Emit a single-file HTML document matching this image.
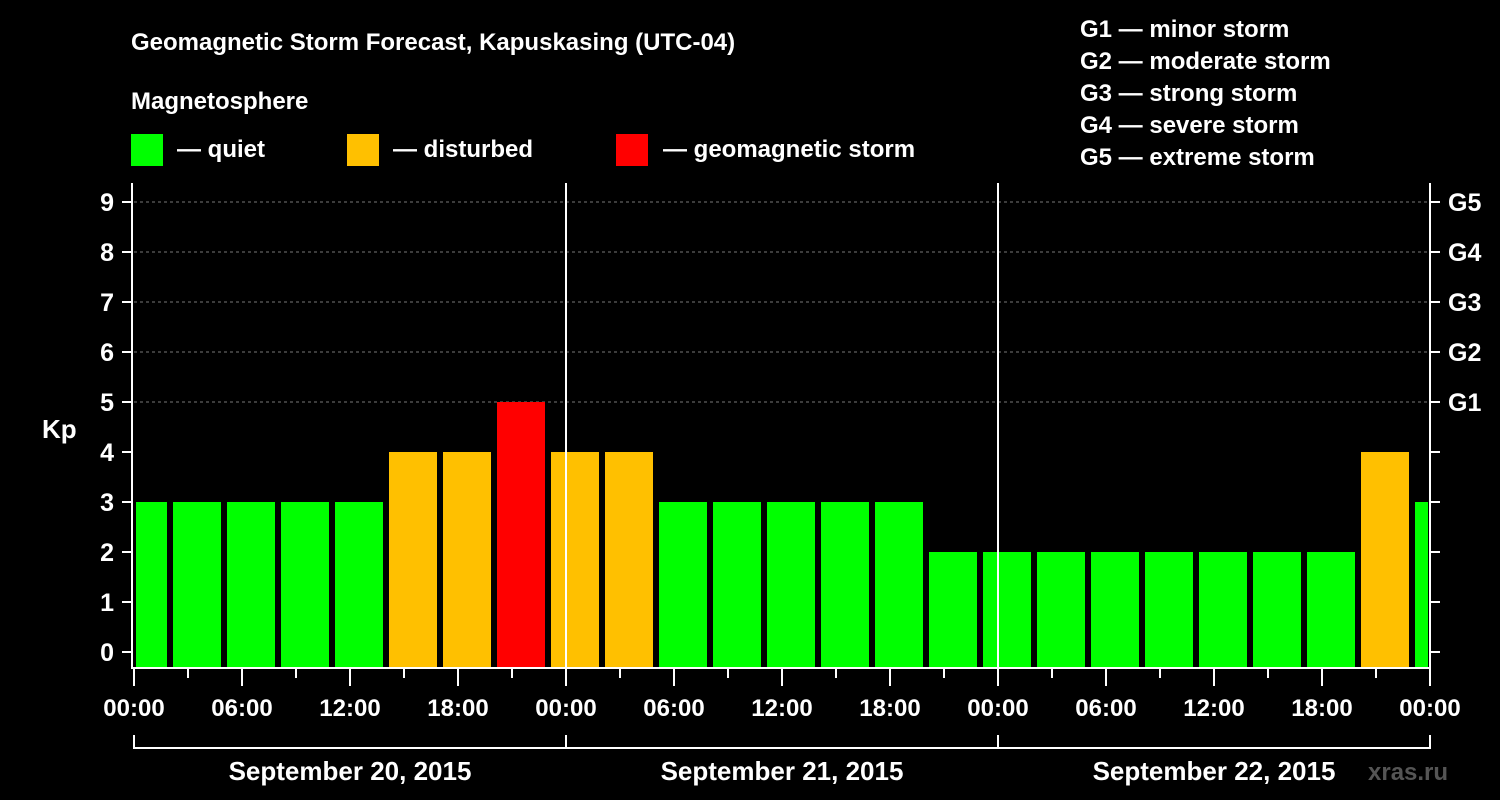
<!DOCTYPE html>
<html><head><meta charset="utf-8"><style>
body{margin:0;background:#000;}
svg{display:block;font-family:"Liberation Sans",sans-serif;font-weight:bold;fill:#fff;}
</style></head><body>
<svg id="c" width="1500" height="800" viewBox="0 0 1500 800">
<rect width="1500" height="800" fill="#000"/>
<text x="131" y="50" font-size="24">Geomagnetic Storm Forecast, Kapuskasing (UTC-04)</text>
<text x="131" y="109" font-size="24">Magnetosphere</text>
<g><rect x="131" y="134" width="32" height="32" fill="#00ff00"/><text x="177" y="157" font-size="24">— quiet</text></g>
<g><rect x="347" y="134" width="32" height="32" fill="#ffc000"/><text x="393" y="157" font-size="24">— disturbed</text></g>
<g><rect x="616" y="134" width="32" height="32" fill="#ff0000"/><text x="663" y="157" font-size="24">— geomagnetic storm</text></g>
<g font-size="24">
<text x="1080" y="37">G1 — minor storm</text><text x="1080" y="69">G2 — moderate storm</text><text x="1080" y="101">G3 — strong storm</text><text x="1080" y="133">G4 — severe storm</text><text x="1080" y="165">G5 — extreme storm</text>
</g>
<text x="42" y="438" font-size="26">Kp</text>
<text x="1368" y="780" font-size="24" fill="#666" style="fill:#555">xras.ru</text>
<g id="grid"></g><g id="bars"></g><g id="axes"></g>
</svg>
<script>
const kpValues=[3,3,3,3,3,4,4,5,4,4,3,3,3,3,3,2,2,2,2,2,2,2,2,4,3];
const slotStartHours=[-1,2,5,8,11,14,17,20,23,26,29,32,35,38,41,44,47,50,53,56,59,62,65,68,71];
const yTicks=[0,1,2,3,4,5,6,7,8,9];
const gLabels=["G1","G2","G3","G4","G5"];
const xTickLabels=["00:00","06:00","12:00","18:00","00:00","06:00","12:00","18:00","00:00","06:00","12:00","18:00","00:00"];
const dayLabels=["September 20, 2015","September 21, 2015","September 22, 2015"];
const NS="http://www.w3.org/2000/svg";
const X0=134,X1=1430,HOURS=72,YT=183,YB=668;
const xs=h=>X0+(X1-X0)*h/HOURS;
const ys=v=>652-50*v;
function mk(t,p,a){const e=document.createElementNS(NS,t);for(const k in a)e.setAttribute(k,a[k]);p.appendChild(e);return e;}
const grid=document.getElementById('grid'),bars=document.getElementById('bars'),axes=document.getElementById('axes');
for(let v=5;v<=9;v++){const l=mk('line',grid,{x1:X0,x2:X1,y1:ys(v),y2:ys(v),stroke:'#777','stroke-dasharray':'3,3','stroke-width':1});

}
kpValues.forEach((v,i)=>{
 const s=Math.max(0,slotStartHours[i]),e=Math.min(HOURS,slotStartHours[i]+3);
 const x0=xs(s)+(slotStartHours[i]<0?2:3),x1=xs(e)-(slotStartHours[i]+3>HOURS?2:3);
 const col=v>=5?'#ff0000':(v==4?'#ffc000':'#00ff00');
 const r=mk('rect',bars,{x:x0,y:ys(v),width:x1-x0,height:YB-1-ys(v),fill:col});
 
 
});
[1,2].forEach(d=>{const l=mk('line',axes,{x1:xs(d*24),x2:xs(d*24),y1:YT,y2:YB,stroke:'#fff','stroke-width':2});

});
const frame=mk('path',axes,{d:`M${X0-2},${YT} V${YB} H${X1} V${YT}`,fill:'none',stroke:'#fff','stroke-width':2});


yTicks.forEach(v=>{
 mk('line',axes,{x1:X0-12,x2:X0-2,y1:ys(v),y2:ys(v),stroke:'#fff','stroke-width':2});
 mk('line',axes,{x1:X1,x2:X1+10,y1:ys(v),y2:ys(v),stroke:'#fff','stroke-width':2});
 const t=mk('text',axes,{x:114,y:ys(v)+9,'font-size':25,'text-anchor':'end'});t.textContent=v;
 
 
});
gLabels.forEach((g,i)=>{const t=mk('text',axes,{x:1448,y:ys(5+i)+9,'font-size':25});t.textContent=g;
 
 });
for(let h=0;h<=HOURS;h+=3){const major=h%6==0;mk('line',axes,{x1:xs(h),x2:xs(h),y1:YB,y2:YB+(major?18:10),stroke:'#fff','stroke-width':2});}
xTickLabels.forEach((s,i)=>{const t=mk('text',axes,{x:xs(i*6),y:716,'font-size':24,'text-anchor':'middle'});t.textContent=s;
 
 });
mk('line',axes,{x1:X0,x2:X1,y1:748,y2:748,stroke:'#fff','stroke-width':2});
for(let d=0;d<=3;d++)mk('line',axes,{x1:xs(d*24),x2:xs(d*24),y1:735,y2:749,stroke:'#fff','stroke-width':2});
dayLabels.forEach((s,i)=>{const t=mk('text',axes,{x:xs(i*24+12),y:780,'font-size':26,'text-anchor':'middle'});t.textContent=s;
 
 });
</script>
</body></html>
